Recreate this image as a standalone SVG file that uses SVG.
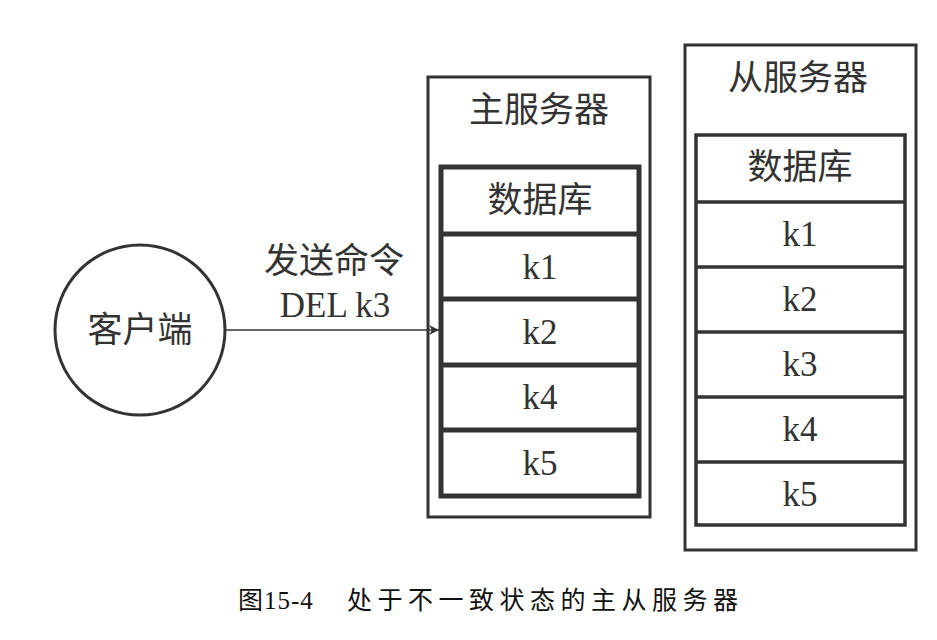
<svg xmlns="http://www.w3.org/2000/svg" width="937" height="640" viewBox="0 0 937 640">
<defs>
<style>
.t{font-family:"Liberation Serif","Noto Sans CJK SC",serif;font-size:35px;fill:#333;text-anchor:middle}
.c{font-family:"Liberation Serif","Noto Sans CJK SC",serif;font-size:25px;fill:#111}
.box{fill:none;stroke:#333;stroke-width:3}
.db{fill:none;stroke:#333;stroke-width:5}
.db2{fill:none;stroke:#333;stroke-width:3.5}
</style>
<marker id="ah" viewBox="0 0 10 10" refX="10" refY="5" markerWidth="10" markerHeight="10" markerUnits="userSpaceOnUse" orient="auto">
<path d="M0,0 L10,5 L0,10 L3,5 z" fill="#333"/>
</marker>
</defs>
<rect width="937" height="640" fill="#fff"/>
<g id="client">
<circle cx="140" cy="330" r="85" fill="none" stroke="#333" stroke-width="3"/>
<text class="t" x="140" y="342">客户端</text>
</g>
<g id="connectors">
<line x1="226" y1="330" x2="439" y2="330" stroke="#333" stroke-width="1.5" marker-end="url(#ah)"/>
<text class="t" x="334" y="273">发送命令</text>
<text class="t" x="335" y="317">DEL k3</text>
</g>
<g id="master">
<rect class="box" x="428" y="77" width="222" height="440"/>
<text class="t" x="539" y="122">主服务器</text>
<rect class="db" x="441" y="167" width="198" height="329"/>
<line class="db" x1="441" y1="234" x2="639" y2="234"/>
<line class="db" x1="441" y1="299" x2="639" y2="299"/>
<line class="db" x1="441" y1="365" x2="639" y2="365"/>
<line class="db" x1="441" y1="430" x2="639" y2="430"/>
<text class="t" x="540" y="212">数据库</text>
<text class="t" x="540" y="279">k1</text>
<text class="t" x="540" y="344">k2</text>
<text class="t" x="540" y="409">k4</text>
<text class="t" x="540" y="475">k5</text>
</g>
<g id="slave">
<rect class="box" x="685" y="45" width="231" height="505"/>
<text class="t" x="798" y="90">从服务器</text>
<rect class="db2" x="696" y="135" width="209" height="390"/>
<line class="db2" x1="696" y1="202" x2="905" y2="202"/>
<line class="db2" x1="696" y1="267" x2="905" y2="267"/>
<line class="db2" x1="696" y1="332" x2="905" y2="332"/>
<line class="db2" x1="696" y1="397" x2="905" y2="397"/>
<line class="db2" x1="696" y1="462" x2="905" y2="462"/>
<text class="t" x="800" y="179">数据库</text>
<text class="t" x="800" y="246">k1</text>
<text class="t" x="800" y="311">k2</text>
<text class="t" x="800" y="376">k3</text>
<text class="t" x="800" y="441">k4</text>
<text class="t" x="800" y="506">k5</text>
</g>
<g id="caption">
<text class="c" x="238" y="609" letter-spacing="1">图15-4</text>
<text class="c" x="347" y="609" letter-spacing="5.5">处于不一致状态的主从服务器</text>
</g>
</svg>
